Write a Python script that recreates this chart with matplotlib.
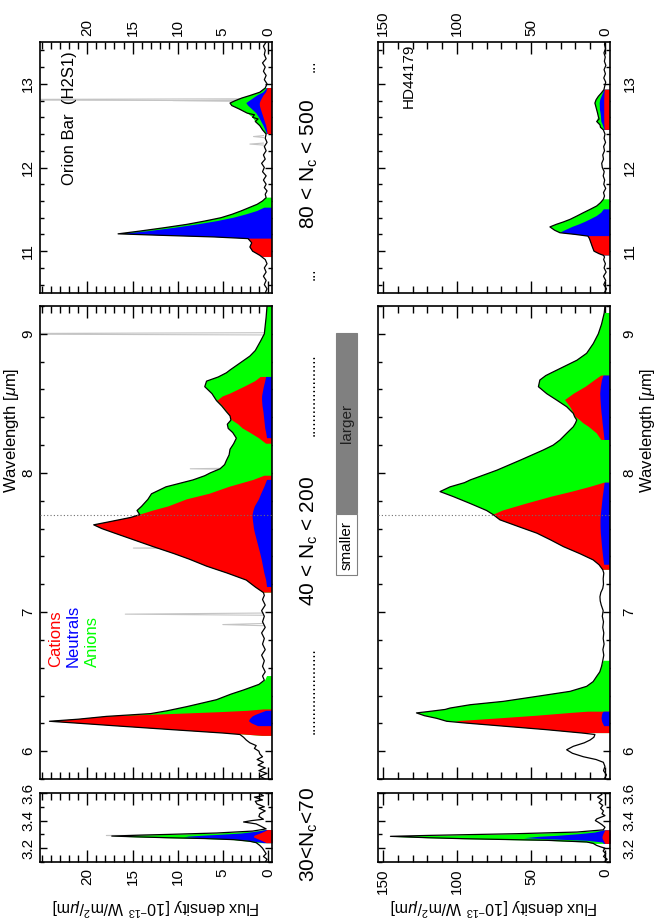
import matplotlib
matplotlib.use("Agg")
import matplotlib.pyplot as plt
import matplotlib.ticker as ticker
from matplotlib.patches import Rectangle
import numpy as np

plt.rcParams.update({
    "font.family":      ["Liberation Sans", "DejaVu Sans"],
    "mathtext.fontset": "custom",
    "mathtext.rm":      "Liberation Sans",
    "mathtext.it":      "Liberation Sans:italic",
    "mathtext.bf":      "Liberation Sans:bold",
    "axes.linewidth":   1.2,
})

RED, BLUE, GREEN, GRAY = "#ff0000", "#0000ff", "#00ff00", "#c4c4c4"

# ---------------- Orion Bar (H2S1) ----------------
# 10.5-13.5 um : black spectrum
orion_lw_w = [10.50, 10.55, 10.60, 10.65, 10.70, 10.75, 10.80, 10.85, 10.90, 10.95, 11.00, 11.05,
              11.10, 11.15, 11.17, 11.19, 11.207, 11.24, 11.28, 11.32, 11.36, 11.40, 11.44, 11.48,
              11.52, 11.56, 11.60, 11.64, 11.68, 11.72, 11.76, 11.80, 11.85, 11.90, 11.95, 12.00,
              12.05, 12.10, 12.15, 12.20, 12.25, 12.30, 12.35, 12.40, 12.45, 12.50, 12.55, 12.58,
              12.60, 12.63, 12.65, 12.70, 12.74, 12.77, 12.80, 12.83, 12.86, 12.90, 12.95, 13.00,
              13.05, 13.10, 13.15, 13.20, 13.25, 13.30, 13.35, 13.40, 13.45, 13.50]
orion_lw_f = [0.3, 0.1, 0.4, 0.2, 0.5, 0.2, 0.4, 0.1, 0.3, 0.9, 1.7, 2.0,
              1.8, 2.2, 6.0, 12.0, 16.6, 14.2, 11.5, 9.0, 7.0, 5.2, 4.0, 3.0,
              2.1, 1.2, 0.6, 0.2, 0.3, 0.1, 0.4, 0.2, 0.5, 0.2, 0.6, 0.4,
              0.7, 0.3, 0.5, 0.2, 0.4, 0.1, 0.3, 0.2, 0.6, 0.9, 1.4, 1.1,
              1.7, 1.5, 2.3, 3.2, 4.0, 4.2, 3.6, 2.9, 2.0, 0.9, 0.3, 0.1,
              0.4, 0.2, 0.5, 0.3, 0.6, 0.2, 0.4, 0.3, 0.5, 0.2]
# stacked decomposition: cations (bottom), + neutrals, + anions (top)
orion_lw_bw = [10.90, 10.93, 10.97, 11.00, 11.05, 11.10, 11.15, 11.155, 11.17, 11.19, 11.207, 11.24,
               11.28, 11.32, 11.36, 11.40, 11.44, 11.48, 11.52, 11.56, 11.60, 11.64, 11.68, 12.38,
               12.40, 12.45, 12.50, 12.55, 12.60, 12.65, 12.70, 12.74, 12.77, 12.80, 12.83, 12.86,
               12.90, 12.95, 12.99]
orion_lw_tot = [0, 0.5, 1.2, 1.7, 2.0, 1.8, 2.2, 3.0, 6.0, 12.0, 16.6, 14.2,
                11.5, 9.0, 7.0, 5.2, 4.0, 3.0, 2.1, 1.2, 0.6, 0.2, 0, 0,
                0.2, 0.6, 0.9, 1.4, 1.7, 2.3, 3.2, 4.0, 4.2, 3.6, 2.9, 2.0,
                0.9, 0.3, 0]
orion_lw_neu = [0, 0.5, 1.2, 1.7, 2.0, 1.8, 2.2, 3.0, 6.0, 11.9, 16.2, 13.2,
                10.3, 7.8, 5.6, 3.8, 2.4, 1.2, 0.4, 0, 0, 0, 0, 0,
                0.1, 0.3, 0.5, 0.75, 1.0, 1.3, 1.8, 2.2, 2.4, 2.0, 1.6, 1.2,
                0.5, 0.1, 0]
orion_lw_cat = [0, 0.5, 1.2, 1.7, 2.0, 1.8, 2.2, 0, 0, 0, 0, 0,
                0, 0, 0, 0, 0, 0, 0, 0, 0, 0, 0, 0,
                0.05, 0.1, 0.2, 0.35, 0.5, 0.65, 0.8, 0.9, 0.9, 0.8, 0.65, 0.5,
                0.2, 0.05, 0]
orion_lw_lines = [12.28, 12.37, 12.80, 12.81]
orion_lw_peaks = [2.0, 1.6, 10.5, 40.0]

# 5.8-9.2 um
orion_mw_w = [5.80, 5.82, 5.84, 5.86, 5.88, 5.90, 5.92, 5.94, 5.96, 5.98, 6.00, 6.02,
              6.04, 6.06, 6.08, 6.10, 6.12, 6.13, 6.155, 6.18, 6.20, 6.215, 6.23, 6.25,
              6.27, 6.29, 6.32, 6.37, 6.41, 6.44, 6.48, 6.51, 6.54, 6.57, 6.61, 6.65,
              6.69, 6.73, 6.77, 6.81, 6.85, 6.89, 6.93, 6.97, 7.01, 7.05, 7.09, 7.12,
              7.14, 7.18, 7.23, 7.28, 7.33, 7.38, 7.42, 7.47, 7.52, 7.57, 7.60, 7.627,
              7.65, 7.68, 7.70, 7.73, 7.76, 7.81, 7.85, 7.90, 7.95, 7.98, 8.00, 8.03,
              8.06, 8.09, 8.13, 8.17, 8.21, 8.25, 8.29, 8.32, 8.35, 8.38, 8.41, 8.44,
              8.48, 8.52, 8.55, 8.57, 8.62, 8.66, 8.69, 8.72, 8.74, 8.79, 8.84, 8.88,
              8.95, 9.00, 9.06, 9.12, 9.20]
orion_mw_f = [0.3, 0.9, 0.1, 1.0, 0.3, 1.1, 0.5, 1.2, 0.6, 0.9, 1.0, 1.5,
              1.3, 2.0, 2.4, 2.7, 3.1, 4.9, 10.7, 16.4, 20.8, 24.2, 21.0, 17.9,
              13.0, 11.2, 9.0, 5.7, 4.1, 2.7, 1.0, 0.4, 0.6, 0.3, 0.6, 0.4,
              0.7, 0.3, 0.6, 0.4, 0.7, 0.3, 0.6, 0.4, 0.7, 0.3, 0.6, 0.4,
              0.5, 1.4, 2.4, 4.5, 6.8, 8.7, 10.4, 12.7, 14.9, 17.1, 18.4, 19.3,
              17.5, 15.2, 14.2, 14.5, 14.0, 13.3, 12.9, 11.3, 8.3, 7.0, 6.4, 5.3,
              4.8, 4.6, 4.3, 4.2, 3.8, 3.5, 3.9, 4.4, 4.5, 4.1, 4.2, 4.6,
              5.1, 5.7, 6.0, 6.2, 7.0, 6.8, 5.5, 4.6, 4.2, 3.1, 2.0, 1.4,
              0.8, 0.4, 0.3, 0.2, 0.1]
# stacked decomposition: neutrals (bottom), + cations, + anions (top)
orion_mw_bw = [6.10, 6.11, 6.13, 6.155, 6.18, 6.20, 6.215, 6.23, 6.25, 6.26, 6.27, 6.28,
               6.29, 6.30, 6.32, 6.37, 6.41, 6.44, 6.48, 6.51, 6.54, 6.56, 7.12, 7.14,
               7.18, 7.23, 7.28, 7.33, 7.38, 7.42, 7.47, 7.52, 7.57, 7.60, 7.627, 7.65,
               7.68, 7.70, 7.73, 7.76, 7.81, 7.85, 7.90, 7.95, 7.98, 8.00, 8.03, 8.06,
               8.09, 8.13, 8.17, 8.21, 8.25, 8.29, 8.32, 8.35, 8.38, 8.41, 8.44, 8.48,
               8.52, 8.55, 8.57, 8.62, 8.66, 8.69, 8.72, 8.74, 8.79, 8.84, 8.88, 8.95,
               9.00, 9.06, 9.12, 9.20]
orion_mw_tot = [0, 0.6, 4.9, 10.7, 16.4, 20.8, 24.2, 21.0, 17.9, 15.4, 13.0, 12.0,
                11.2, 10.4, 9.0, 5.7, 4.1, 2.7, 1.0, 0.3, 0.1, 0, 0, 0.5,
                1.4, 2.4, 4.5, 6.8, 8.7, 10.4, 12.7, 14.9, 17.1, 18.4, 19.3, 17.5,
                15.2, 14.2, 14.5, 14.0, 13.3, 12.9, 11.3, 8.3, 7.0, 6.4, 5.3, 4.8,
                4.6, 4.3, 4.2, 3.8, 3.5, 3.9, 4.4, 4.5, 4.1, 4.2, 4.6, 5.1,
                5.7, 6.0, 6.2, 7.0, 6.8, 5.5, 4.6, 4.2, 3.1, 2.0, 1.4, 0.8,
                0.4, 0.3, 0.2, 0.1]
orion_mw_cat = [0, 0.6, 4.9, 10.7, 16.4, 20.8, 24.2, 21.0, 17.8, 13.5, 9.5, 5.5,
                2.3, 0.5, 0, 0, 0, 0, 0, 0, 0, 0, 0, 0.5,
                1.4, 2.4, 4.5, 6.8, 8.7, 10.4, 12.7, 14.9, 17.1, 18.4, 19.3, 17.5,
                15.2, 14.2, 12.7, 11.0, 9.0, 6.5, 4.3, 1.6, 0.4, 0, 0, 0,
                0, 0, 0, 0.2, 1.0, 2.0, 2.8, 3.3, 4.0, 4.2, 4.5, 5.0,
                5.6, 5.0, 4.2, 2.6, 1.4, 0.8, 0, 0, 0, 0, 0, 0,
                0, 0, 0, 0]
orion_mw_neu = [0, 0, 0, 0, 1.1, 1.8, 2.1, 2.0, 1.7, 1.4, 1.0, 0.6,
                0.2, 0, 0, 0, 0, 0, 0, 0, 0, 0, 0, 0,
                0.1, 0.2, 0.4, 0.55, 0.7, 0.85, 1.05, 1.25, 1.45, 1.55, 1.6, 1.65,
                1.7, 1.7, 1.6, 1.45, 1.0, 0.75, 0.4, 0.1, 0, 0, 0, 0,
                0, 0, 0, 0, 0.1, 0.2, 0.3, 0.35, 0.4, 0.45, 0.5, 0.6,
                0.65, 0.65, 0.6, 0.45, 0.3, 0.2, 0, 0, 0, 0, 0, 0,
                0, 0, 0, 0]
orion_mw_lines = [6.91, 6.985, 7.46, 7.50, 8.03, 9.00]
orion_mw_peaks = [5.0, 15.8, 14.9, 12.0, 8.6, 40.0]

# 3.1-3.6 um
orion_sw_w = [3.10, 3.12, 3.14, 3.16, 3.18, 3.20, 3.22, 3.24, 3.25, 3.262, 3.27, 3.276,
              3.282, 3.288, 3.295, 3.30, 3.31, 3.324, 3.34, 3.36, 3.376, 3.39, 3.40, 3.41,
              3.43, 3.45, 3.47, 3.49, 3.50, 3.52, 3.54, 3.55, 3.57, 3.58, 3.60]
orion_sw_f = [0.3, 0.1, 0.5, 0.2, 0.4, 0.6, 0.9, 1.3, 2.0, 3.8, 7.0, 11.2,
              14.5, 17.3, 14.0, 11.0, 5.7, 1.7, 0.2, 0.8, 1.3, 2.7, 1.8, 0.5,
              1.0, 0.9, 0.3, 1.0, 0.4, 1.2, 1.4, 0.6, 1.5, 0.5, 1.0]
orion_sw_bw = [3.23, 3.24, 3.25, 3.262, 3.27, 3.276, 3.282, 3.288, 3.295, 3.30, 3.31, 3.324,
               3.335, 3.345]
orion_sw_tot = [0, 1.3, 2.0, 3.8, 7.0, 11.2, 14.5, 17.3, 14.0, 11.0, 5.7, 1.7, 0.5, 0]
orion_sw_neu = [0, 0.5, 1.5, 2.8, 5.0, 7.0, 9.4, 8.8, 7.0, 5.5, 3.0, 1.2, 0.3, 0]
orion_sw_cat = [0, 0.2, 0.5, 0.9, 1.2, 1.4, 1.6, 1.6, 1.5, 1.3, 0.9, 0.4, 0.1, 0]
orion_sw_lines = [3.292]
orion_sw_peaks = [17.9]

# ---------------- HD44179 ----------------
hd_lw_w = [10.50, 10.55, 10.60, 10.65, 10.70, 10.75, 10.80, 10.85, 10.90, 10.93, 10.95, 10.97,
           11.00, 11.05, 11.10, 11.15, 11.18, 11.20, 11.22, 11.25, 11.29, 11.32, 11.35, 11.38,
           11.42, 11.46, 11.50, 11.54, 11.58, 11.62, 11.66, 11.70, 11.75, 11.80, 11.85, 11.90,
           11.95, 12.00, 12.05, 12.10, 12.15, 12.20, 12.25, 12.30, 12.35, 12.40, 12.45, 12.48,
           12.51, 12.55, 12.58, 12.61, 12.65, 12.69, 12.73, 12.77, 12.81, 12.85, 12.89, 12.93,
           12.97, 13.02, 13.07, 13.12, 13.17, 13.22, 13.27, 13.32, 13.37, 13.42, 13.47, 13.50]
hd_lw_f = [0.5, -1.0, 0.8, -0.5, 1.0, -0.8, 0.6, -0.3, 0.9, 0.3, 1.0, 4.0,
           7.4, 8.5, 9.5, 10.5, 11.5, 20.0, 30.4, 34.0, 37.2, 33.0, 28.0, 23.6,
           19.0, 14.6, 10.0, 5.6, 3.0, 1.1, 0.3, 1.0, -0.5, 0.8, 0.2, 1.2,
           0.5, 1.8, 2.2, 1.0, 1.5, 0.3, 0.9, -0.4, 0.6, 0.0, 1.1, 3.0,
           3.4, 5.6, 4.0, 4.5, 5.0, 5.6, 6.2, 6.8, 6.0, 4.5, 2.5, 0.7,
           0.2, -0.5, 0.8, -0.3, 0.6, -0.6, 0.4, -0.2, 0.7, -0.4, 0.3, 0.0]
hd_lw_bw = [10.93, 10.95, 10.97, 11.00, 11.05, 11.10, 11.15, 11.18, 11.19, 11.20, 11.22, 11.25,
            11.29, 11.32, 11.35, 11.38, 11.42, 11.46, 11.50, 11.54, 11.58, 11.62, 11.66, 12.43,
            12.45, 12.48, 12.51, 12.55, 12.61, 12.65, 12.69, 12.73, 12.77, 12.81, 12.85, 12.89,
            12.93, 12.97]
hd_lw_tot = [0, 1.0, 4.0, 7.4, 8.5, 9.5, 10.5, 11.5, 15.0, 20.0, 30.4, 34.0,
             37.2, 33.0, 28.0, 23.6, 19.0, 14.6, 10.0, 5.6, 3.0, 1.1, 0, 0,
             1.1, 3.0, 3.4, 5.6, 4.5, 5.0, 5.6, 6.2, 6.8, 6.0, 4.5, 2.5,
             0.7, 0]
hd_lw_neu = [0, 1.0, 4.0, 7.4, 8.5, 9.5, 10.5, 11.5, 15.0, 20.0, 30.4, 27.0,
             22.0, 17.5, 13.5, 10.0, 5.6, 2.5, 0.8, 0, 0, 0, 0, 0,
             0.5, 1.0, 1.5, 2.5, 2.7, 3.0, 3.4, 3.5, 3.6, 3.2, 2.3, 1.3,
             0.4, 0]
hd_lw_cat = [0, 1.0, 4.0, 7.4, 8.5, 9.5, 10.5, 11.5, 0, 0, 0, 0,
             0, 0, 0, 0, 0, 0, 0, 0, 0, 0, 0, 0,
             0.2, 0.3, 0.4, 0.5, 0.5, 0.5, 0.5, 0.5, 0.5, 0.5, 0.4, 0.3,
             0.1, 0]

hd_mw_w = [5.80, 5.83, 5.86, 5.89, 5.92, 5.94, 5.96, 5.985, 6.01, 6.035, 6.06, 6.08,
           6.10, 6.12, 6.13, 6.155, 6.18, 6.203, 6.215, 6.236, 6.255, 6.275, 6.284, 6.30,
           6.31, 6.334, 6.358, 6.394, 6.43, 6.466, 6.50, 6.538, 6.57, 6.61, 6.65, 6.69,
           6.73, 6.77, 6.81, 6.85, 6.89, 6.93, 6.97, 7.01, 7.05, 7.08, 7.11, 7.14,
           7.17, 7.20, 7.24, 7.28, 7.304, 7.34, 7.375, 7.42, 7.47, 7.52, 7.567, 7.615,
           7.663, 7.70, 7.73, 7.78, 7.83, 7.866, 7.90, 7.93, 7.95, 8.02, 8.093, 8.165,
           8.20, 8.237, 8.285, 8.332, 8.357, 8.38, 8.404, 8.428, 8.476, 8.524, 8.57, 8.62,
           8.668, 8.70, 8.716, 8.763, 8.81, 8.86, 8.93, 9.00, 9.07, 9.15, 9.20]
hd_mw_f = [0.5, -1.0, 1.0, 0.0, 1.1, 6.0, 14.6, 22.0, 25.9, 21.4, 14.0, 10.1,
           7.5, 6.8, 15.0, 40.0, 68.7, 95.0, 107.0, 113.7, 122.0, 127.4, 120.0, 108.0,
           104.7, 91.0, 68.7, 46.0, 23.6, 12.4, 8.0, 5.6, 3.5, 2.3, 1.5, 0.8,
           1.4, 0.6, 1.2, 0.8, 1.5, 1.0, 1.8, 1.2, 2.5, 3.2, 3.4, 2.8,
           1.5, 1.0, 1.2, 0.8, 1.5, 4.0, 8.0, 17.0, 28.0, 37.0, 46.0, 58.6,
           71.0, 75.5, 80.0, 91.0, 102.5, 111.5, 104.7, 95.0, 91.0, 73.0, 57.0, 41.7,
           35.0, 30.4, 25.9, 21.4, 20.0, 19.1, 20.5, 21.4, 25.9, 32.7, 39.4, 45.0,
           44.0, 40.0, 37.0, 28.0, 19.0, 12.4, 7.9, 4.5, 2.3, 0.5, 0.0]
hd_mw_bw = [6.11, 6.13, 6.155, 6.18, 6.203, 6.215, 6.236, 6.255, 6.275, 6.284, 6.30, 6.31,
            6.334, 6.358, 6.394, 6.43, 6.466, 6.50, 6.538, 6.57, 6.61, 6.65, 6.69, 7.28,
            7.304, 7.34, 7.375, 7.42, 7.47, 7.52, 7.567, 7.615, 7.663, 7.70, 7.73, 7.78,
            7.83, 7.866, 7.90, 7.93, 7.95, 8.02, 8.093, 8.165, 8.20, 8.237, 8.285, 8.332,
            8.357, 8.38, 8.404, 8.428, 8.476, 8.524, 8.57, 8.62, 8.668, 8.70, 8.716, 8.763,
            8.81, 8.86, 8.93, 9.00, 9.07, 9.15, 9.20]
hd_mw_tot = [0, 15.0, 40.0, 68.7, 95.0, 107.0, 113.7, 122.0, 127.4, 120.0, 108.0, 104.7,
             91.0, 68.7, 46.0, 23.6, 12.4, 8.0, 5.6, 3.5, 2.3, 1.0, 0, 0,
             1.5, 4.0, 8.0, 17.0, 28.0, 37.0, 46.0, 58.6, 71.0, 75.5, 80.0, 91.0,
             102.5, 111.5, 104.7, 95.0, 91.0, 73.0, 57.0, 41.7, 35.0, 30.4, 25.9, 21.4,
             20.0, 19.1, 20.5, 21.4, 25.9, 32.7, 39.4, 45.0, 44.0, 40.0, 37.0, 28.0,
             19.0, 12.4, 7.9, 4.5, 2.3, 0.5, 0]
hd_mw_cat = [0, 15.0, 40.0, 68.7, 95.0, 101.0, 71.4, 46.0, 23.0, 11.5, 0, 0,
             0, 0, 0, 0, 0, 0, 0, 0, 0, 0, 0, 0,
             1.5, 4.0, 8.0, 17.0, 28.0, 37.0, 46.0, 58.6, 71.0, 75.5, 69.0, 53.0,
             36.0, 22.0, 10.0, 0.5, 0, 0, 0, 0, 0, 2.5, 5.6, 11.0,
             14.6, 17.0, 20.0, 21.0, 23.6, 27.0, 21.0, 13.0, 6.8, 2.5, 0, 0,
             0, 0, 0, 0, 0, 0, 0]
hd_mw_neu = [0, 0, 0, 0.5, 1.6, 2.0, 2.3, 2.1, 1.6, 0.8, 0, 0,
             0, 0, 0, 0, 0, 0, 0, 0, 0, 0, 0, 0,
             0, 0.5, 1.0, 1.5, 2.0, 2.4, 2.8, 3.0, 3.0, 2.8, 2.5, 2.0,
             1.5, 1.0, 0.6, 0.2, 0, 0, 0, 0, 0, 0.3, 0.8, 1.3,
             1.6, 1.8, 2.0, 2.3, 2.7, 3.0, 3.2, 2.8, 2.0, 1.0, 0, 0,
             0, 0, 0, 0, 0, 0, 0]

hd_sw_w = [3.10, 3.12, 3.14, 3.16, 3.18, 3.20, 3.21, 3.22, 3.235, 3.245, 3.257, 3.269,
           3.276, 3.286, 3.293, 3.305, 3.317, 3.333, 3.352, 3.37, 3.388, 3.40, 3.412, 3.436,
           3.45, 3.47, 3.49, 3.51, 3.53, 3.55, 3.57, 3.59, 3.60]
hd_sw_f = [0.5, -1.5, 1.0, -0.5, 1.2, 0.0, 3.0, 5.6, 8.0, 12.4, 39.0, 95.7,
           120.0, 145.0, 118.0, 60.0, 19.0, 1.1, 0.0, 2.0, 4.5, 6.5, 5.6, 0.0,
           2.0, 1.0, 3.0, 1.5, 4.0, 2.0, 5.0, 2.0, 3.0]
hd_sw_bw = [3.23, 3.235, 3.245, 3.257, 3.269, 3.276, 3.286, 3.293, 3.305, 3.317, 3.333, 3.345]
hd_sw_tot = [0, 8.0, 12.4, 39.0, 95.7, 120.0, 145.0, 118.0, 60.0, 19.0, 1.1, 0]
hd_sw_neu = [0, 1.0, 2.0, 12.0, 40.0, 55.0, 45.0, 33.0, 18.0, 7.0, 1.0, 0]
hd_sw_cat = [0, 0.3, 0.6, 1.2, 1.8, 2.0, 2.0, 1.8, 1.4, 0.8, 0.2, 0]


# ---------------- layout (pixels of the 664x922 canvas) ----------------
W, H = 664, 922
COLS = [(40, 272), (378, 610)]
ROWS = [(42, 293), (306, 779), (793, 862)]
WL_LIMITS = [(10.5, 13.5), (5.8, 9.2), (3.1, 3.6)]
FLUX_LIMITS = [(25.25, -0.45), (153.4, -3.4)]


def fx(px):
    return px / W


def fy(py):
    return 1 - py / H


fig = plt.figure(figsize=(W / 100, H / 100), dpi=100)

axes = {}
for c, (x0, x1) in enumerate(COLS):
    for r, (y0, y1) in enumerate(ROWS):
        ax = fig.add_axes([fx(x0), fy(y1), (x1 - x0) / W, (y1 - y0) / H])
        ax.set_xlim(*FLUX_LIMITS[c])
        ax.set_ylim(*WL_LIMITS[r])
        axes[(c, r)] = ax


def style(ax, col, row):
    if col == 0:
        ax.xaxis.set_major_locator(ticker.FixedLocator([0, 5, 10, 15, 20]))
        ax.xaxis.set_minor_locator(ticker.MultipleLocator(1))
    else:
        ax.xaxis.set_major_locator(ticker.FixedLocator([0, 50, 100, 150]))
        ax.xaxis.set_minor_locator(ticker.MultipleLocator(10))
    if row == 2:
        ax.yaxis.set_major_locator(ticker.FixedLocator([3.2, 3.4, 3.6]))
        ax.yaxis.set_minor_locator(ticker.MultipleLocator(0.1))
        ax.yaxis.set_major_formatter(ticker.FormatStrFormatter("%.1f"))
    else:
        ax.yaxis.set_major_locator(ticker.MultipleLocator(1))
        ax.yaxis.set_minor_locator(ticker.MultipleLocator(0.2))
        ax.yaxis.set_major_formatter(ticker.FormatStrFormatter("%d"))

    ax.tick_params(axis="x", which="both", direction="in", top=True, bottom=True,
                   labeltop=(row == 0), labelbottom=(row == 2),
                   labelrotation=90, labelsize=11, pad=4.5, width=1)
    ax.tick_params(axis="x", which="major", length=8.5)
    ax.tick_params(axis="x", which="minor", length=5)
    ax.tick_params(axis="y", which="both", direction="in", left=True, right=True,
                   labelleft=(col == 0), labelright=(col == 1),
                   labelrotation=90, labelsize=11, pad=(3.5 if col == 0 else 9), width=1)
    ax.tick_params(axis="y", which="major", length=5)
    ax.tick_params(axis="y", which="minor", length=3)
    for lbl in ax.get_yticklabels():
        lbl.set_va("center")


def draw(ax, w, f, bw, layers, lines=(), peaks=(), half=0.01):
    base = ax.get_xlim()[1]
    bw = np.asarray(bw, dtype=float)
    for vals, color in layers:
        v = np.asarray(vals, dtype=float)
        ax.fill_betweenx(bw, base, v, where=v > 0, color=color, lw=0, zorder=2)
    for c, p in zip(lines, peaks):
        ax.plot([0.5, p, 0.5], [c - half, c, c + half], color=GRAY, lw=0.8, zorder=1)
    ax.plot(f, w, color="black", lw=0.9, zorder=3)


# Orion Bar column
draw(axes[(0, 0)], orion_lw_w, orion_lw_f, orion_lw_bw,
     [(orion_lw_tot, GREEN), (orion_lw_neu, BLUE), (orion_lw_cat, RED)],
     orion_lw_lines, orion_lw_peaks, half=0.012)
draw(axes[(0, 1)], orion_mw_w, orion_mw_f, orion_mw_bw,
     [(orion_mw_tot, GREEN), (orion_mw_cat, RED), (orion_mw_neu, BLUE)],
     orion_mw_lines, orion_mw_peaks, half=0.008)
draw(axes[(0, 2)], orion_sw_w, orion_sw_f, orion_sw_bw,
     [(orion_sw_tot, GREEN), (orion_sw_neu, BLUE), (orion_sw_cat, RED)],
     orion_sw_lines, orion_sw_peaks, half=0.003)

# HD44179 column
draw(axes[(1, 0)], hd_lw_w, hd_lw_f, hd_lw_bw,
     [(hd_lw_tot, GREEN), (hd_lw_neu, BLUE), (hd_lw_cat, RED)])
draw(axes[(1, 1)], hd_mw_w, hd_mw_f, hd_mw_bw,
     [(hd_mw_tot, GREEN), (hd_mw_cat, RED), (hd_mw_neu, BLUE)])
draw(axes[(1, 2)], hd_sw_w, hd_sw_f, hd_sw_bw,
     [(hd_sw_tot, GREEN), (hd_sw_neu, BLUE), (hd_sw_cat, RED)])

for (c, r), ax in axes.items():
    style(ax, c, r)
    if r == 1:
        ax.axhline(7.7, color="#707070", lw=0.8, ls=(0, (1, 2)), zorder=4)

# panel labels
axes[(0, 0)].text(fx(74), fy(118), "Orion Bar  (H2S1)", transform=fig.transFigure,
                  rotation=90, rotation_mode="anchor", ha="center", va="baseline", fontsize=12)
axes[(1, 0)].text(fx(413), fy(76), "HD44179", transform=fig.transFigure,
                  rotation=90, rotation_mode="anchor", ha="center", va="baseline", fontsize=11)

# legend
for px, label, color in [(60, "Cations", RED), (78, "Neutrals", BLUE), (97, "Anions", GREEN)]:
    fig.text(fx(px), fy(667), label, color=color, rotation=90, rotation_mode="anchor",
             ha="left", va="baseline", fontsize=12)

# size ranges between the columns
mid_txt = dict(rotation=90, rotation_mode="anchor", ha="center", va="baseline")
fig.text(fx(315), fy(164), r"80 < N$_{\rm c}$ < 500", fontsize=15, **mid_txt)
fig.text(fx(315), fy(66), "...", fontsize=11, **mid_txt)
fig.text(fx(315), fy(274), "...", fontsize=11, **mid_txt)
fig.text(fx(315), fy(541), r"40 < N$_{\rm c}$ < 200", fontsize=15, **mid_txt)
fig.text(fx(315), fy(395), "." * 20, fontsize=11, **mid_txt)
fig.text(fx(315), fy(691), "." * 21, fontsize=11, **mid_txt)
fig.text(fx(315), fy(834), r"30<N$_{\rm c}$<70", fontsize=15, **mid_txt)

# smaller / larger bar
fig.patches.append(Rectangle((fx(336), fy(513)), 21 / W, 180 / H, transform=fig.transFigure,
                             facecolor="#808080", edgecolor="#808080", lw=0.8))
fig.patches.append(Rectangle((fx(336), fy(575)), 21 / W, 61 / H, transform=fig.transFigure,
                             facecolor="white", edgecolor="#808080", lw=0.8))
fig.text(fx(347), fy(423), "larger", rotation=90, ha="center", va="center",
         fontsize=11, color="#202020")
fig.text(fx(347), fy(545), "smaller", rotation=90, ha="center", va="center", fontsize=11)

# axis titles
for px in (16, 652):
    fig.text(fx(px), fy(430), r"Wavelength [$\mu$m]", rotation=90, rotation_mode="anchor",
             ha="center", va="baseline", fontsize=12)
for px in (156, 494):
    fig.text(fx(px), fy(907), r"Flux density [10$^{-13}$ W/m$^2$/$\mu$m]", rotation=180,
             ha="center", va="center", fontsize=11.5)

fig.savefig("out.png", dpi=100)
